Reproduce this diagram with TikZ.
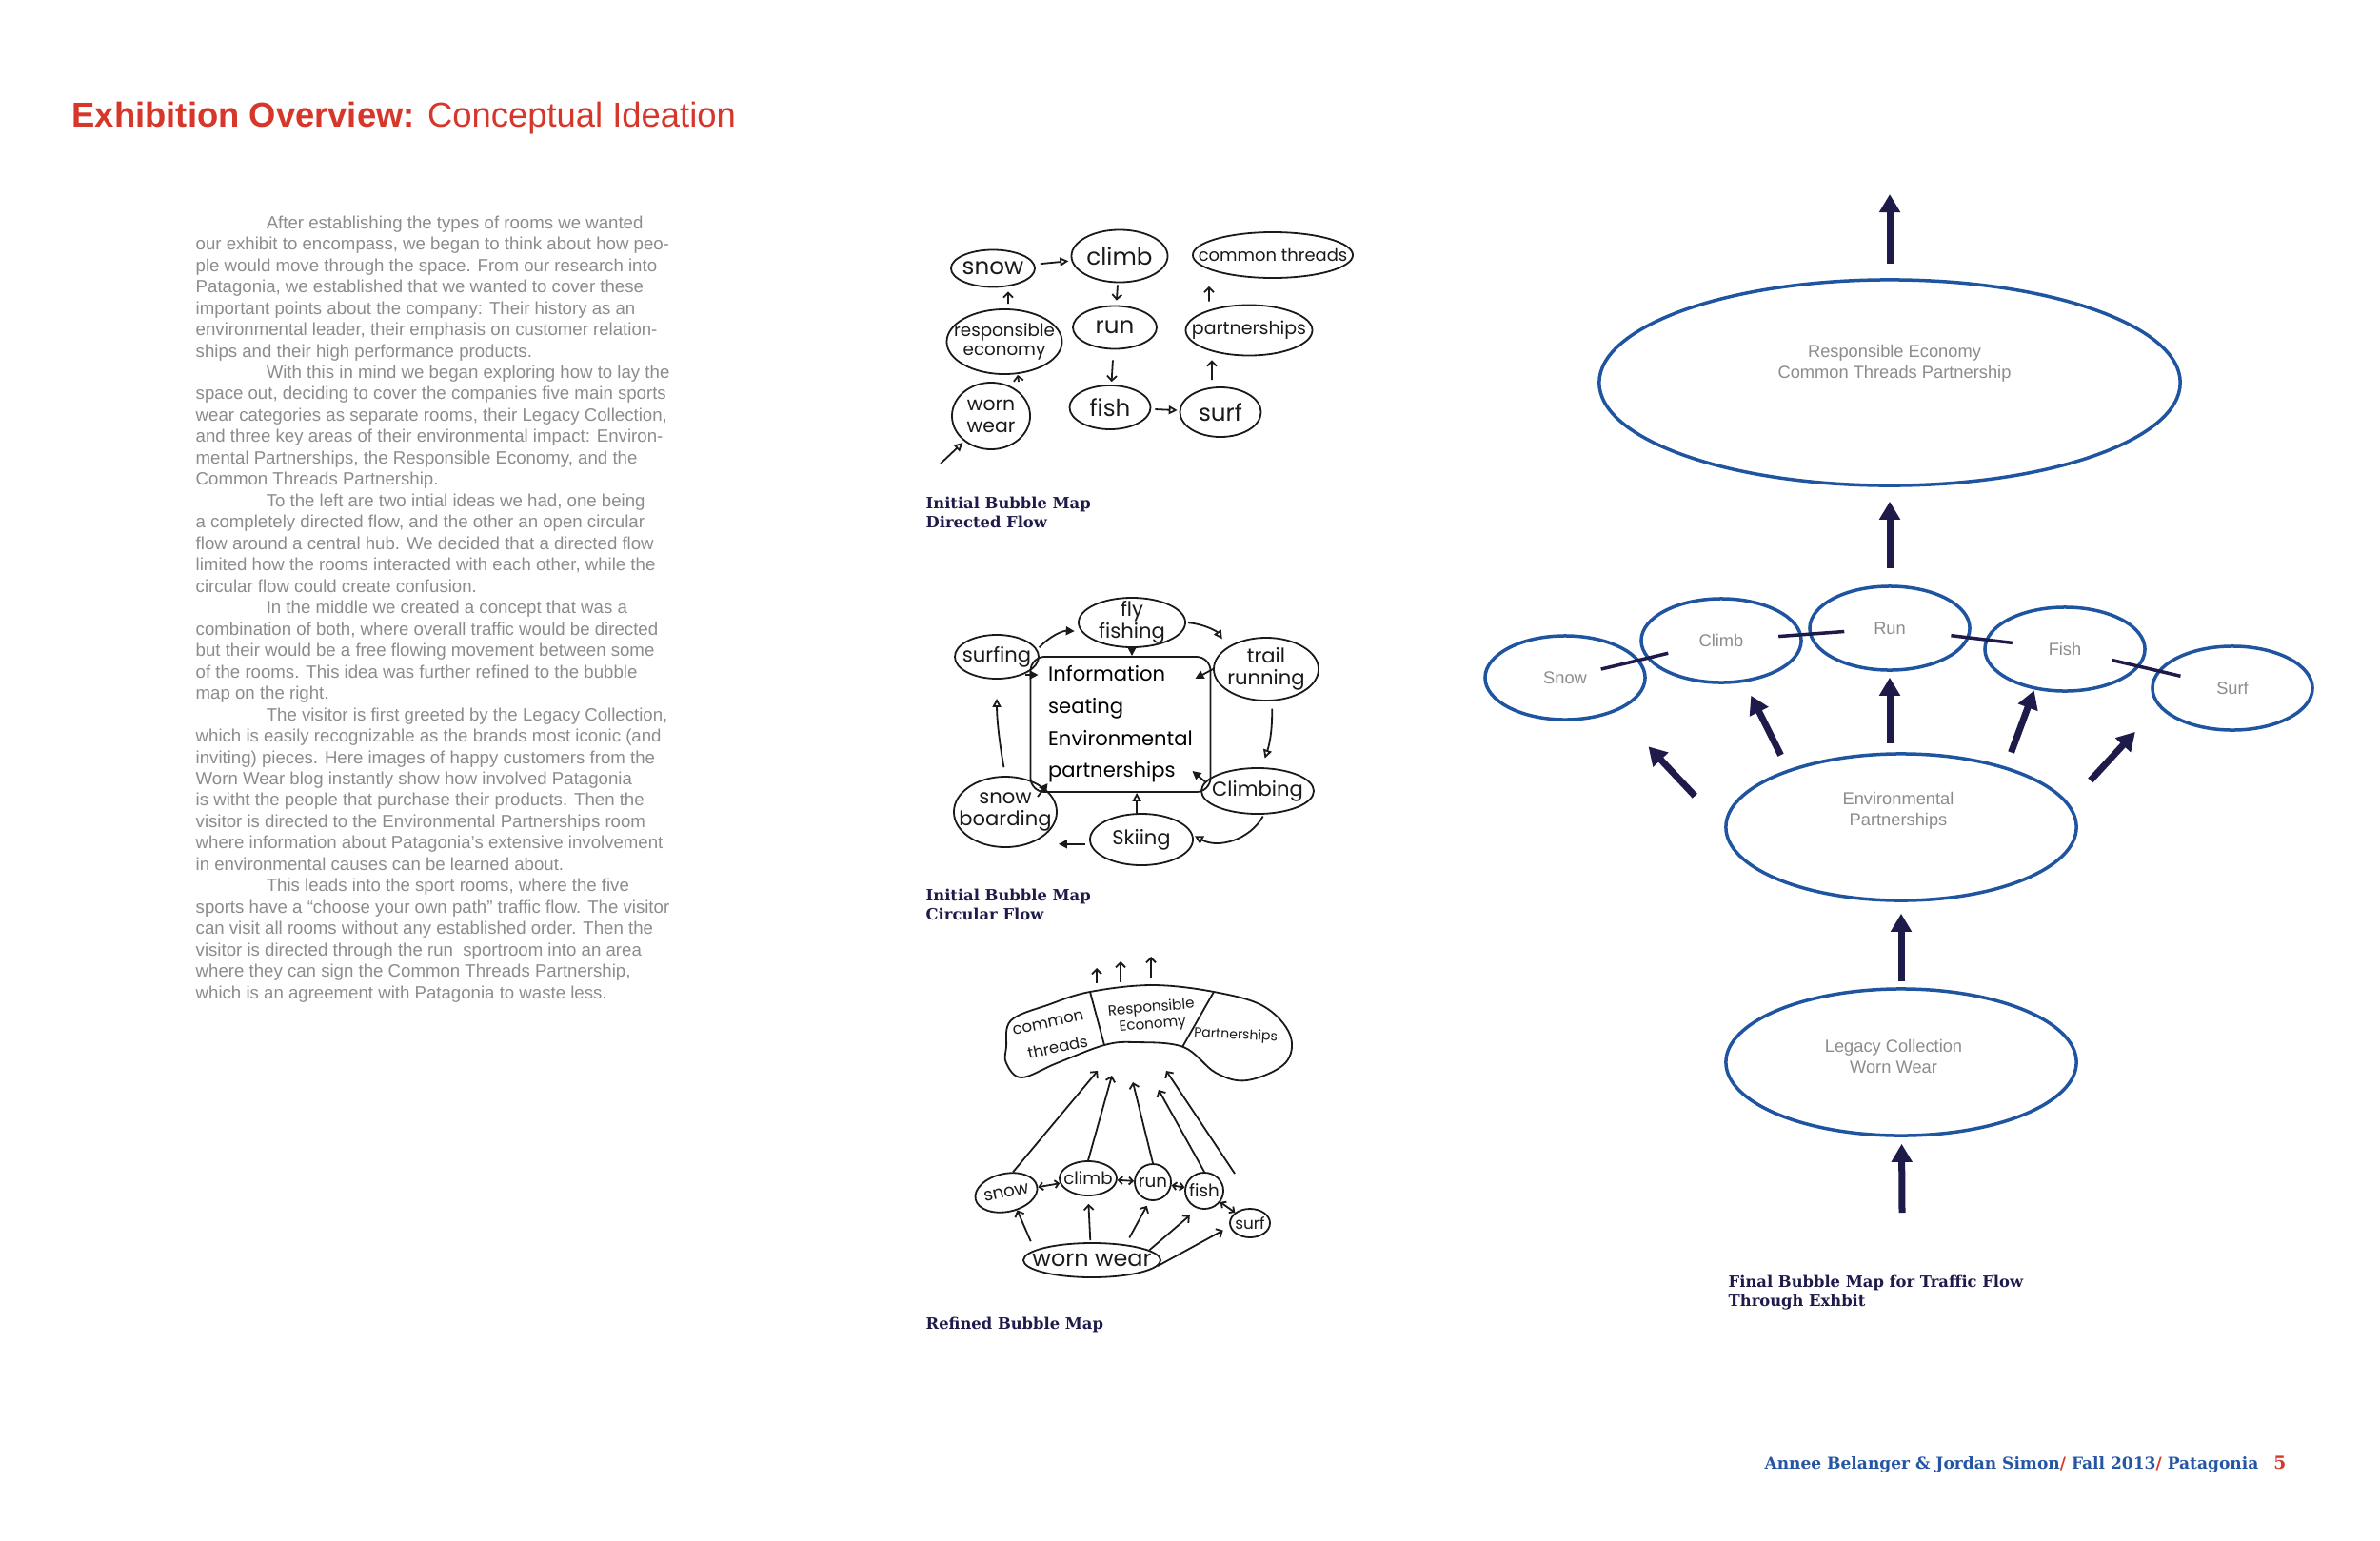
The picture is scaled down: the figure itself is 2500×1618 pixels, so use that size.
\documentclass[tikz,border=0pt]{standalone}
\usepackage{fontspec}
\setmainfont{Liberation Sans}
\newfontfamily\slabfont{DejaVu Serif}
\newfontfamily\handfont{Poppins}
\usetikzlibrary{arrows.meta,calc,positioning,shapes.geometric}
\definecolor{titlered}{HTML}{D7362A}
\definecolor{inkblue}{HTML}{1F55A0}
\definecolor{navy}{HTML}{1E1B4B}
\definecolor{footblue}{HTML}{2456A4}
\definecolor{bodygray}{HTML}{8C8C8C}
\definecolor{pencil}{HTML}{1A1A1A}
\tikzset{
  bodytext/.style={anchor=north west,inner sep=0pt,align=left,text=bodygray,font=\fontsize{5.3}{6.39}\selectfont},
  bubble/.style={ellipse,draw=inkblue,line width=.035cm,inner sep=0pt,text=bodygray,font=\fontsize{5.2}{6.26}\selectfont},
  bubbletext/.style={inner sep=0pt,align=center,text=bodygray,font=\fontsize{5.2}{6.26}\selectfont},
  flow/.style={-{Triangle[length=.19cm,width=.21cm]},draw=navy,line width=.07cm},
  link/.style={draw=navy,line width=.035cm},
  sketch/.style={ellipse,draw=pencil,line width=.018cm,inner sep=0pt},
  sketchline/.style={draw=pencil,line width=.018cm},
  sktext/.style={inner sep=0pt,align=center,text=pencil,font=\handfont\fontsize{7}{7.4}\selectfont},
  skopen/.style={sketchline,-{Triangle[open,length=.09cm,width=.09cm]}},
  skfill/.style={sketchline,-{Triangle[length=.09cm,width=.09cm]}},
  skbarb/.style={sketchline,-{Straight Barb[length=.05cm,width=.1cm]}},
  skboth/.style={sketchline,{Straight Barb[length=.04cm,width=.08cm]}-{Straight Barb[length=.04cm,width=.08cm]}},
  caption/.style={anchor=north west,inner sep=0pt,align=left,text=navy,font=\slabfont\bfseries\fontsize{4.65}{5.7}\selectfont}}
\begin{document}
\begin{tikzpicture}[x=.01cm,y=-.01cm]
\fill[white] (0,0) rectangle (2500,1618);
\useasboundingbox (0,0) rectangle (2500,1618);

% title and text column
\node[anchor=base west,inner sep=0pt,text=titlered,font=\fontsize{10.35}{12}\selectfont] (title) at (75,133) {\textbf{Exhibition Overview:} Conceptual Ideation};
\node[bodytext] (body) at (205,226) {\hspace*{.74cm}After establishing the types of rooms we wanted\\
our exhibit to encompass, we began to think about how peo-\\
ple would move through the space. From our research into\\
Patagonia, we established that we wanted to cover these\\
important points about the company: Their history as an\\
environmental leader, their emphasis on customer relation-\\
ships and their high performance products.\\
\hspace*{.74cm}With this in mind we began exploring how to lay the\\
space out, deciding to cover the companies five main sports\\
wear categories as separate rooms, their Legacy Collection,\\
and three key areas of their environmental impact: Environ-\\
mental Partnerships, the Responsible Economy, and the\\
Common Threads Partnership.\\
\hspace*{.74cm}To the left are two intial ideas we had, one being\\
a completely directed flow, and the other an open circular\\
flow around a central hub. We decided that a directed flow\\
limited how the rooms interacted with each other, while the\\
circular flow could create confusion.\\
\hspace*{.74cm}In the middle we created a concept that was a\\
combination of both, where overall traffic would be directed\\
but their would be a free flowing movement between some\\
of the rooms. This idea was further refined to the bubble\\
map on the right.\\
\hspace*{.74cm}The visitor is first greeted by the Legacy Collection,\\
which is easily recognizable as the brands most iconic (and\\
inviting) pieces. Here images of happy customers from the\\
Worn Wear blog instantly show how involved Patagonia\\
is witht the people that purchase their products. Then the\\
visitor is directed to the Environmental Partnerships room\\
where information about Patagonia’s extensive involvement\\
in environmental causes can be learned about.\\
\hspace*{.74cm}This leads into the sport rooms, where the five\\
sports have a “choose your own path” traffic flow. The visitor\\
can visit all rooms without any established order. Then the\\
visitor is directed through the run\ \ sportroom into an area\\
where they can sign the Common Threads Partnership,\\
which is an agreement with Patagonia to waste less.};

% sketch 1: directed flow
\foreach \n/\x/\y/\w/\h in {dsnow/1043/282/.88/.39,dclimb/1176/269/1.01/.55,dcommon/1337/268/1.68/.48,
  dresp/1055/359/1.21/.68,drun/1171/344/.88/.45,dpart/1312/347/1.33/.53,dworn/1041/437/.82/.70,
  dfish/1166/428/.85/.46,dsurf/1282/433/.85/.52}
  \node[sketch,minimum width=\w cm,minimum height=\h cm] (\n) at (\x,\y) {};
\node[sktext] (dsnowt) at (dsnow) {snow};
\node[sktext] (dclimbt) at (dclimb) {climb};
\node[sktext,font=\handfont\fontsize{5.1}{6}\selectfont] (dcommont) at (dcommon) {common threads};
\node[sktext,font=\handfont\fontsize{5.2}{5.6}\selectfont] (drespt) at (dresp) {responsible\\economy};
\node[sktext] (drunt) at (drun) {run};
\node[sktext,font=\handfont\fontsize{5.4}{6}\selectfont] (dpartt) at (dpart) {partnerships};
\node[sktext,font=\handfont\fontsize{5.8}{6.6}\selectfont] (dwornt) at (dworn) {worn\\wear};
\node[sktext] (dfisht) at (dfish) {fish};
\node[sktext] (dsurft) at (dsurf) {surf};
\draw[skopen,shorten <=.06cm,shorten >=.03cm] (dsnow) -- (dclimb);
\draw[skbarb,shorten <=.02cm,shorten >=.05cm] (dclimb) -- (drun);
\draw[skbarb,shorten <=.11cm,shorten >=.03cm] (drun) -- (dfish);
\draw[skopen,shorten <=.04cm,shorten >=.02cm] (dfish) -- (dsurf);
\draw[skbarb,shorten <=.07cm,shorten >=.04cm] ([xshift=-.09cm]dsurf.north) -- ([xshift=-.39cm]dpart.south);
\draw[skbarb,shorten <=.03cm,shorten >=.08cm] ([xshift=-.42cm]dpart.north) -- ([xshift=-.67cm]dcommon.south);
\draw[skbarb] ([xshift=.29cm]dworn.north) -- ([xshift=.14cm]dresp.south);
\draw[skbarb,shorten <=.05cm,shorten >=.04cm] ([xshift=.04cm]dresp.north) -- ([xshift=.16cm]dsnow.south);
\coordinate (dentry) at (988,487);
\draw[skopen,shorten >=.02cm] (dentry) -- (dworn);
\node[caption] (cap1) at (972,521) {Initial Bubble Map\\Directed Flow};

% sketch 2: circular flow
\foreach \n/\x/\y/\w/\h in {cfly/1189/654/1.12/.52,csurf/1047/690/.88/.46,ctrail/1330/703/1.10/.66,
  cclimb/1321/831/1.18/.48,csnow/1056/853/1.08/.74,cski/1199/882/1.08/.54}
  \node[sketch,minimum width=\w cm,minimum height=\h cm] (\n) at (\x,\y) {};
\node[sketch,rectangle,rounded corners=.15cm,minimum width=1.89cm,minimum height=1.42cm,align=left,
  font=\handfont\fontsize{6}{9.6}\selectfont] (chub) at (1177,761) {Information\\seating\\Environmental\\partnerships};
\node[sktext,font=\handfont\fontsize{6}{6.6}\selectfont] (cflyt) at (cfly) {fly\\fishing};
\node[sktext,font=\handfont\fontsize{6}{6.6}\selectfont] (csurft) at (csurf) {surfing};
\node[sktext,font=\handfont\fontsize{6}{6.6}\selectfont] (ctrailt) at (ctrail) {trail\\running};
\node[sktext,font=\handfont\fontsize{6}{6.6}\selectfont] (cclimbt) at (cclimb) {Climbing};
\node[sktext,font=\handfont\fontsize{6}{6.6}\selectfont] (csnowt) at (csnow) {snow\\boarding};
\node[sktext,font=\handfont\fontsize{6}{6.6}\selectfont] (cskit) at (cski) {Skiing};
\draw[skfill,shorten <=.03cm,shorten >=.07cm] (csurf.10) to[bend left=25] (cfly.190);
\draw[skopen,shorten <=.02cm,shorten >=.1cm] (cfly.east) to[bend left=25] (ctrail.150);
\draw[skfill] (cfly.south) -- (cfly.south |- chub.north);
\draw[skfill,shorten <=.03cm] (csurf.-35) -- ([shift={(9,20)}]chub.north west);
\draw[skfill] (ctrail.west) -- ([shift={(-17,-48)}]chub.east);
\draw[skopen,shorten <=.08cm,shorten >=.1cm] (ctrail.-80) to[bend left=10] (cclimb.80);
\draw[skfill] (cclimb.170) -- ([shift={(-20,49)}]chub.east);
\draw[skopen,shorten <=.02cm,shorten >=.02cm] (cclimb.-75) to[bend left=45] (cski.5);
\draw[skopen] (cski.100) -- (cski.100 |- chub.south);
\draw[skfill,shorten <=.05cm,shorten >=.01cm] (cski.185) -- (cski.185 -| csnow.east);
\draw[skfill] ([shift={(34,-16)}]csnow.center) -- ([shift={(19,-10)}]chub.south west);
\draw[skopen,shorten <=.09cm,shorten >=.2cm] (csnow.north) to[bend left=5] (csurf.south);
\node[caption] (cap2) at (972,933) {Initial Bubble Map\\Circular Flow};

% sketch 3: refined map
\draw[sketchline] plot[smooth cycle,tension=.6] coordinates {(1057,1100) (1062,1072) (1103,1055) (1145,1042)
  (1210,1035) (1275,1042) (1327,1057) (1355,1087) (1350,1117) (1310,1135) (1277,1127) (1243,1100)
  (1193,1095) (1160,1098) (1110,1117) (1073,1132) (1057,1117)};
\draw[sketchline] (1145,1042) -- (1160,1098) (1275,1042) -- (1242,1100);
\node[sktext,rotate=12,font=\handfont\fontsize{4.7}{5}\selectfont] (rcommon) at (1101,1075) {common};
\node[sktext,rotate=12,font=\handfont\fontsize{4.7}{5}\selectfont] (rthreads) at (1111,1100) {threads};
\node[sktext,rotate=5,font=\handfont\fontsize{4.3}{5}\selectfont] (rresp) at (1210,1068) {Responsible\\Economy};
\node[sktext,rotate=-3,font=\handfont\fontsize{4}{5}\selectfont] (rpart) at (1298,1088) {Partnerships};
\coordinate (rtop) at (1152,1033);
\foreach \dx/\dy/\len in {0/0/16,25/-1/22,57/-6/22}
  \draw[skbarb] ([shift={(\dx,\dy)}]rtop) -- ++(0,-\len);
\node[sketch,rotate=12,minimum width=.66cm,minimum height=.40cm] (rsnow) at (1057,1253) {};
\foreach \n/\x/\y/\w/\h in {rclimb/1143/1238/.60/.36,rrun/1211/1242/.38/.38,rfish/1265/1251/.40/.38,
  rsurf/1313/1285/.42/.30,rworn/1147/1324/1.44/.36}
  \node[sketch,minimum width=\w cm,minimum height=\h cm] (\n) at (\x,\y) {};
\node[sktext,rotate=12,font=\handfont\fontsize{5.2}{5.2}\selectfont] (rsnowt) at (rsnow) {snow};
\node[sktext,font=\handfont\fontsize{5.2}{5.2}\selectfont] (rclimbt) at (rclimb) {climb};
\node[sktext,font=\handfont\fontsize{5.2}{5.2}\selectfont] (rrunt) at (rrun) {run};
\node[sktext,font=\handfont\fontsize{5.2}{5.2}\selectfont] (rfisht) at (rfish) {fish};
\node[sktext,font=\handfont\fontsize{4.8}{5.2}\selectfont] (rsurft) at (rsurf) {surf};
\node[sktext,font=\handfont\fontsize{6.8}{7}\selectfont] (rwornt) at (rworn) {worn wear};
\draw[skboth] (rsnow) -- (rclimb);
\draw[skboth] (rclimb) -- (rrun);
\draw[skboth] (rrun) -- (rfish);
\draw[skboth] (rfish) -- (rsurf);
\coordinate (rb1) at (1153,1125); \coordinate (rb2) at (1168,1130); \coordinate (rb3) at (1190,1137);
\coordinate (rb4) at (1217,1145); \coordinate (rb5) at (1225,1125); \coordinate (rfree) at (1297,1233);
\draw[skbarb] (rsnow.60) -- (rb1);
\draw[skbarb] (rclimb.north) -- (rb2);
\draw[skbarb] (rrun.north) -- (rb3);
\draw[skbarb] (rfish.north) -- (rb4);
\draw[skbarb] (rfree) -- (rb5);
\draw[skbarb,shorten <=.1cm] (rworn.170) -- (rsnow.-70);
\draw[skbarb,shorten <=.02cm,shorten >=.08cm] (rworn.95) -- (rclimb.south);
\draw[skbarb,shorten <=.08cm,shorten >=.06cm] (rworn.25) -- (rrun.-100);
\draw[skbarb,shorten >=.11cm] (rworn.10) -- (rfish.-110);
\draw[skbarb,shorten >=.08cm] (rworn.-5) -- (rsurf.190);
\node[caption] (cap3) at (972,1383) {Refined Bubble Map};

% final bubble map
\node[bubble,minimum width=6.1cm,minimum height=2.16cm] (resp) at (1985,402) {};
\node[bubbletext] (resptxt) at (1990,382) {Responsible Economy\\Common Threads Partnership};
\foreach \n/\x/\y/\t in {snow/1644/712/Snow,climb/1808/673/Climb,run/1985/660/Run,fish/2169/682/Fish,surf/2345/723/Surf}
  \node[bubble,minimum width=1.68cm,minimum height=.88cm] (\n) at (\x,\y) {\t};
\node[bubble,minimum width=3.68cm,minimum height=1.54cm] (env) at (1997,869) {};
\node[bubbletext] (envtxt) at (1994,852) {Environmental\\Partnerships};
\node[bubble,minimum width=3.68cm,minimum height=1.54cm] (legacy) at (1997,1116) {};
\node[bubbletext] (legacytxt) at (1989,1110) {Legacy Collection\\Worn Wear};
\draw[link] ($(snow)!.23!(climb)$) -- ($(snow)!.66!(climb)$);
\draw[link] ($(climb)!.34!(run)$) -- ($(climb)!.73!(run)$);
\draw[link] ($(run)!.35!(fish)$) -- ($(run)!.70!(fish)$);
\draw[link] ($(fish)!.28!(surf)$) -- ($(fish)!.69!(surf)$);
\coordinate (exit) at (1985,204);
\coordinate (entry) at (1998,1274);
\draw[flow,shorten <=.15cm] (resp) -- (exit);
\draw[flow,shorten <=.17cm,shorten >=.15cm] (run) -- (resp);
\draw[flow,shorten <=.45cm,shorten >=.5cm] (env.180) -- (snow.-34);
\draw[flow,shorten <=.17cm,shorten >=.155cm] (env.153) -- (climb.-61);
\draw[flow,shorten <=.09cm,shorten >=.06cm] (env.north -| run) -- (run.south);
\draw[flow,shorten <=.16cm,shorten >=.01cm] (env.30) -- (fish.-127);
\draw[flow,shorten <=.33cm,shorten >=.36cm] (env.8) -- (surf.194);
\draw[flow,shorten <=.06cm,shorten >=.12cm] (legacy) -- (env);
\draw[flow,shorten >=.07cm] (entry) -- (legacy);
\node[caption] (cap4) at (1815,1339) {Final Bubble Map for Traffic Flow\\Through Exhbit};

% footer
\node[anchor=base east,inner sep=0pt,text=footblue,font=\slabfont\bfseries\fontsize{4.85}{5.5}\selectfont] (footer) at (2402,1543)
  {Annee Belanger \& Jordan Simon\textcolor{titlered}{/} Fall 2013\textcolor{titlered}{/} Patagonia\hspace{.16cm}\textcolor{titlered}{\fontsize{5.3}{5.5}\selectfont 5}};
\end{tikzpicture}
\end{document}
